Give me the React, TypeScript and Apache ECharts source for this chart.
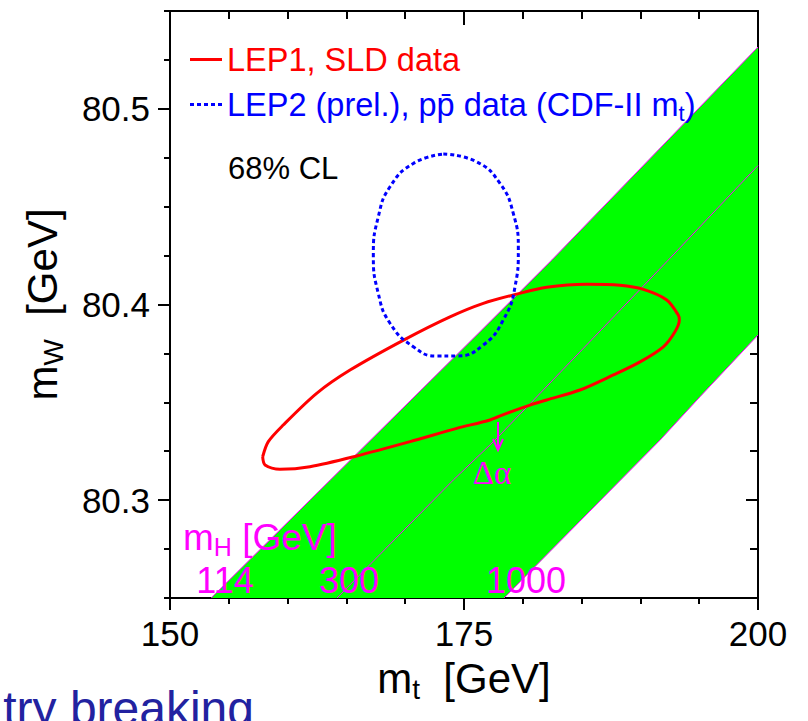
import React, { useEffect, useRef } from "react";
import * as echarts from "echarts";

// ---- axis ranges and ticks ----
const xRange = [150, 200];
const yRange = [80.25, 80.55];
const xMajorTicks = [150, 175, 200];
const xMinorTicks = [155, 160, 165, 170, 180, 185, 190, 195];
const yMajorTicks = [80.3, 80.4, 80.5];
const yMinorTicks = [80.25, 80.275, 80.325, 80.35, 80.375, 80.425, 80.45, 80.475, 80.525, 80.55];

// ---- LEP1, SLD 68% CL contour (mt, mW) ----
const lep1Contour = [
  [157.88, 80.3222], [158.08, 80.318], [159.35, 80.3158], [161.9, 80.3171],
  [165.88, 80.3226], [170.41, 80.3299], [174.38, 80.3367], [177.21, 80.341],
  [178.63, 80.3444], [180.61, 80.3486], [182.03, 80.3512], [184.86, 80.3563],
  [187.7, 80.364], [189.97, 80.3707], [191.95, 80.3784], [192.94, 80.3861],
  [193.31, 80.3921], [193.22, 80.3946], [192.24, 80.4023], [190.25, 80.4077],
  [188.27, 80.4098], [185.43, 80.4103], [182.03, 80.4088], [179.48, 80.4053],
  [176.64, 80.4006], [173.81, 80.3937], [169.98, 80.3822], [165.31, 80.3665],
  [162.47, 80.3546], [159.63, 80.3384], [158.36, 80.3299], [157.88, 80.3222],
];

// ---- LEP2 (prel.), ppbar 68% CL contour (mt, mW) ----
const lep2Contour = [
  [173.24, 80.4769], [176.08, 80.4729], [178.06, 80.4619], [179.19, 80.4466],
  [179.62, 80.4278], [179.34, 80.4091], [178.34, 80.3921], [176.64, 80.3793],
  [174.38, 80.3737], [172.68, 80.3737], [170.69, 80.3784], [168.71, 80.3904],
  [167.71, 80.4057], [167.29, 80.4253], [167.71, 80.4448], [168.71, 80.4602],
  [170.69, 80.4721], [173.24, 80.4769],
];

// ---- SM prediction lines for mH = 114, 300, 1000 GeV ----
const mH114Line = [[153.5, 80.25], [176.36, 80.3861], [182.46, 80.4227], [200, 80.5316]];
const mH300Line = [[164.2, 80.25], [174.09, 80.3103], [177.64, 80.3307], [192.37, 80.4227], [200, 80.471]];
const mH1000Line = [[178.4, 80.25], [191.67, 80.3307], [195.07, 80.3529], [200, 80.3844]];

const lep1Name = "LEP1, SLD data";
const lep2Name = "LEP2 (prel.), pp\u0304 data (CDF-II mt)";

const FONT = "'Liberation Sans', Arial, Helvetica, sans-serif";
const MAGENTA = "#ff00ff";

function makeAxis(kind: "x" | "y", position: string, ticks: number[], len: number, inside: boolean, showLine: boolean, labels: number[] | null, extra: any = {}) {
  const range = kind === "x" ? xRange : yRange;
  return {
    type: "value",
    position,
    min: range[0],
    max: range[1],
    splitLine: { show: false },
    axisLine: { show: showLine, onZero: false, lineStyle: { color: "#000", width: 2 } },
    axisTick: { show: true, inside, length: len, customValues: ticks, lineStyle: { color: "#000", width: 2 } },
    axisLabel: labels
      ? { show: true, customValues: labels, fontSize: 35, color: "#000", fontFamily: FONT, margin: kind === "x" ? 18 : 20 }
      : { show: false },
    ...extra,
  };
}

const titleStyle = {
  fontSize: 42,
  color: "#000",
  fontFamily: FONT,
  rich: { sub: { fontSize: 28, padding: [22, 0, 0, 0], fontFamily: FONT, color: "#000" } },
};

export default function App() {
  const ref = useRef<HTMLDivElement>(null);
  useEffect(() => {
    if (!ref.current) return;
    const chart = echarts.init(ref.current, undefined, { renderer: "svg" });
    const bandPoly = [...mH114Line, ...mH1000Line.slice().reverse()];
    const option: any = {
      animation: false,
      textStyle: { fontFamily: FONT },
      grid: { left: 170, top: 11, right: 50, bottom: 123, containLabel: false },
      xAxis: [
        makeAxis("x", "bottom", xMajorTicks, 12, false, true, xMajorTicks, {
          name: "m{sub|t}  [GeV]",
          nameLocation: "middle",
          nameGap: 55,
          nameTextStyle: titleStyle,
        }),
        makeAxis("x", "bottom", xMinorTicks, 6, false, false, null),
        makeAxis("x", "top", xMajorTicks, 14, true, true, null),
        makeAxis("x", "top", xMinorTicks, 8, true, false, null),
      ],
      yAxis: [
        makeAxis("y", "left", yMajorTicks, 12, false, true, yMajorTicks, {
          name: "m{sub|W}  [GeV]",
          nameLocation: "middle",
          nameRotate: 90,
          nameGap: 103,
          nameTextStyle: titleStyle,
        }),
        makeAxis("y", "left", yMinorTicks, 6, false, false, null),
        makeAxis("y", "right", yMajorTicks, 12, true, true, null),
        makeAxis("y", "right", yMinorTicks, 8, true, false, null),
      ],
      legend: {
        orient: "vertical",
        left: 185,
        top: 38,
        itemWidth: 32,
        itemHeight: 3,
        itemGap: 12,
        selectedMode: false,
        textStyle: {
          fontSize: 32.5,
          fontFamily: FONT,
          rich: { sub: { fontSize: 22, color: "#0000ff", padding: [17, 0, 0, 0], fontFamily: FONT } },
        },
        formatter: (name: string) => (name === lep2Name ? "LEP2 (prel.), pp\u0304 data (CDF-II m{sub|t})" : name),
        data: [
          { name: lep1Name, icon: "path://M0,0h32v3h-32z", itemStyle: { color: "#ff0000" }, textStyle: { color: "#ff0000" } },
          {
            name: lep2Name,
            icon: "path://M0,0h4v3h-4z M7,0h4v3h-4z M14,0h4v3h-4z M21,0h4v3h-4z M28,0h4v3h-4z",
            itemStyle: { color: "#0000ff" },
            textStyle: { color: "#0000ff" },
          },
        ],
      },
      series: [
        {
          type: "custom",
          name: "band",
          coordinateSystem: "cartesian2d",
          clip: true,
          silent: true,
          z: 1,
          data: [bandPoly[0]],
          renderItem: (params: any, api: any) => ({
            type: "polygon",
            shape: { points: bandPoly.map((p) => api.coord(p)) },
            style: { fill: "#00ff00", stroke: "none" },
          }),
        },
        ...[mH114Line, mH300Line, mH1000Line].map((d, i) => ({
          type: "line",
          name: "mH" + i,
          data: d,
          symbol: "none",
          silent: true,
          z: 2,
          lineStyle: { color: MAGENTA, width: 1 },
        })),
        {
          type: "line",
          name: lep1Name,
          data: lep1Contour,
          symbol: "none",
          smooth: 0.3,
          z: 3,
          color: "#ff0000",
          lineStyle: { color: "#ff0000", width: 3 },
        },
        {
          type: "line",
          name: lep2Name,
          data: lep2Contour,
          symbol: "none",
          smooth: 0.5,
          z: 4,
          color: "#0000ff",
          lineStyle: { color: "#0000ff", width: 3, type: [4, 3] },
        },
      ],
      graphic: [
        { type: "text", x: 228, y: 168, z: 100, style: { text: "68% CL", fontSize: 31, fontFamily: FONT, fill: "#000", verticalAlign: "middle" } },
        {
          type: "text", x: 183, y: 537, z: 100,
          style: {
            text: "m{sub|H} [GeV]", fontSize: 37, fontFamily: FONT, fill: MAGENTA, verticalAlign: "middle",
            rich: { sub: { fontSize: 25, fill: MAGENTA, padding: [20, 0, 0, 0], fontFamily: FONT } },
          },
        },
        { type: "text", x: 225, y: 580, z: 100, style: { text: "114", fontSize: 36, fontFamily: FONT, fill: MAGENTA, align: "center", verticalAlign: "middle" } },
        { type: "text", x: 349, y: 580, z: 100, style: { text: "300", fontSize: 36, fontFamily: FONT, fill: MAGENTA, align: "center", verticalAlign: "middle" } },
        { type: "text", x: 526, y: 580, z: 100, style: { text: "1000", fontSize: 36, fontFamily: FONT, fill: MAGENTA, align: "center", verticalAlign: "middle" } },
        { type: "text", x: 492, y: 473, z: 100, style: { text: "\u0394\u03b1", fontSize: 33, fontFamily: "'Liberation Serif', 'Times New Roman', serif", fill: MAGENTA, align: "center", verticalAlign: "middle" } },
        { type: "polyline", z: 100, shape: { points: [[498, 422], [498, 450]] }, style: { stroke: MAGENTA, lineWidth: 2, fill: "none" } },
        { type: "polyline", z: 100, shape: { points: [[493, 439], [498, 450], [503, 439]] }, style: { stroke: MAGENTA, lineWidth: 2, fill: "none" } },
        { type: "text", x: 254, y: 708, z: 100, style: { text: "try breaking", fontSize: 48, fontFamily: FONT, fill: "#2222a0", align: "right", verticalAlign: "middle" } },
      ],
    };
    chart.setOption(option);
    return () => chart.dispose();
  }, []);
  return <div ref={ref} style={{ position: "fixed", left: 0, top: 0, width: 808, height: 721, background: "#fff" }} />;
}
